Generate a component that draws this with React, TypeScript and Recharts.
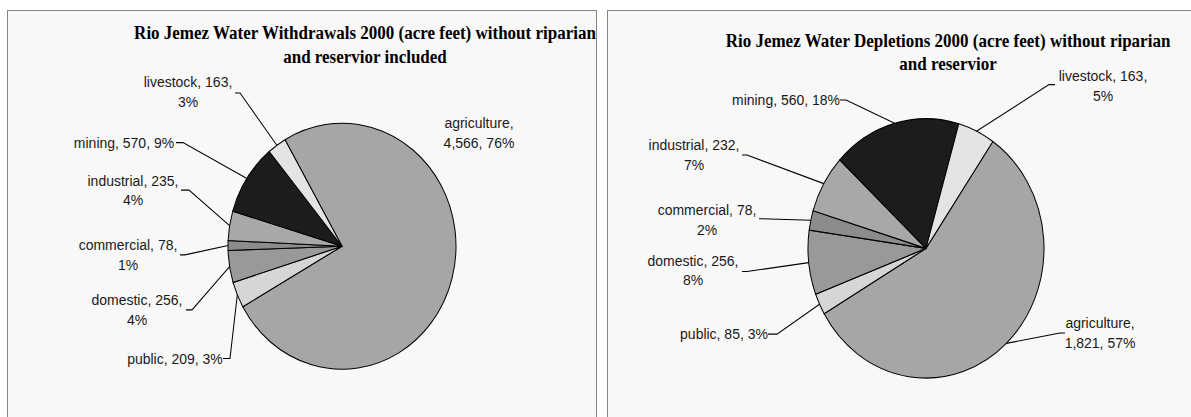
import { Cell, Pie, PieChart } from 'recharts';

const categories = ['agriculture', 'public', 'domestic', 'commercial', 'industrial', 'mining', 'livestock'];
const withdrawals = [4566, 209, 256, 78, 235, 570, 163];
const withdrawalPct = [76, 3, 4, 1, 4, 9, 3];
const depletions = [1821, 85, 256, 78, 232, 560, 163];
const depletionPct = [57, 3, 8, 2, 7, 18, 5];

const sliceColors = ['#a6a6a6', '#d6d6d6', '#999999', '#8c8c8c', '#a8a8a8', '#1c1c1c', '#e4e4e4'];

type Wrap = 'name' | 'value' | 'none';
interface LabelSpot {
  x: number;
  y: number;
  wrap: Wrap;
  lead?: [number, number, number];
}

// label placement, in unscaled panel coords
const withdrawalLabels: LabelSpot[] = [
  { x: 471, y: 104, wrap: 'name' },
  { x: 167, y: 322, wrap: 'none', lead: [215, 222, 322] },
  { x: 129, y: 268, wrap: 'value', lead: [178, 184, 277] },
  { x: 120, y: 217, wrap: 'value', lead: [172, 177, 226] },
  { x: 125, y: 157, wrap: 'value', lead: [173, 181, 166] },
  { x: 116, y: 122, wrap: 'none', lead: [168, 175, 122] },
  { x: 180, y: 66, wrap: 'value', lead: [227, 232, 76] }
];

const depletionLabels: LabelSpot[] = [
  { x: 492, y: 284, wrap: 'name', lead: [457, 452, 293] },
  { x: 116, y: 294, wrap: 'none', lead: [160, 169, 294] },
  { x: 85, y: 227, wrap: 'value', lead: [134, 139, 237] },
  { x: 99, y: 181, wrap: 'value', lead: [151, 154, 189] },
  { x: 86, y: 122, wrap: 'value', lead: [134, 139, 131] },
  { x: 178, y: 81, wrap: 'none', lead: [232, 238, 81] },
  { x: 495, y: 59, wrap: 'value', lead: [447, 441, 67] }
];

const RAD = Math.PI / 180;

const makeLabel = (values: number[], pct: number[], spots: LabelSpot[]) => (props: any) => {
  const { cx, cy, midAngle, outerRadius, index } = props;
  const spot = spots[index];
  const name = categories[index];
  const val = values[index].toLocaleString('en-US');
  let lines: string[];
  if (spot.wrap === 'name') lines = [`${name},`, `${val}, ${pct[index]}%`];
  else if (spot.wrap === 'value') lines = [`${name}, ${val},`, `${pct[index]}%`];
  else lines = [`${name}, ${val}, ${pct[index]}%`];
  const ex = cx + outerRadius * Math.cos(midAngle * RAD);
  const ey = cy - outerRadius * Math.sin(midAngle * RAD);
  return (
    <g key={`lbl-${index}`}>
      {spot.lead && (
        <polyline
          points={`${spot.lead[0]},${spot.lead[2]} ${spot.lead[1]},${spot.lead[2]} ${ex},${ey}`}
          fill="none"
          stroke="#000"
          strokeWidth={1}
        />
      )}
      {lines.map((t, i) => (
        <text
          key={i}
          x={spot.x}
          y={spot.y + i * 18}
          textAnchor="middle"
          dominantBaseline="central"
          fontFamily="'Liberation Sans', Arial, sans-serif"
          fontSize={14}
          fill="#1a1a1a"
        >
          {t}
        </text>
      ))}
    </g>
  );
};

interface PanelProps {
  left: number;
  width: number;
  stretch: number;
  values: number[];
  pct: number[];
  spots: LabelSpot[];
  cx: number;
  cy: number;
  radius: number;
  startAngle: number;
  title: [string, string];
  titleX: number;
  titleY: [number, number];
}

const Panel = (p: PanelProps) => {
  const data = categories.map((name, i) => ({ name, value: p.values[i] }));
  return (
    <div
      style={{
        position: 'absolute',
        left: p.left,
        top: 10,
        width: p.width,
        height: 430,
        boxSizing: 'border-box',
        border: '1px solid #858585',
        background: '#f8f8f8'
      }}
    >
      <div style={{ position: 'absolute', left: 0, top: 0, transform: `scaleY(${p.stretch})`, transformOrigin: 'top left' }}>
        <PieChart width={p.width - 2} height={390} margin={{ top: 0, right: 0, bottom: 0, left: 0 }}>
          <Pie
            data={data}
            dataKey="value"
            nameKey="name"
            cx={p.cx}
            cy={p.cy}
            outerRadius={p.radius}
            startAngle={p.startAngle}
            endAngle={p.startAngle - 360}
            stroke="#000"
            strokeWidth={1}
            labelLine={false}
            label={makeLabel(p.values, p.pct, p.spots)}
            isAnimationActive={false}
          >
            {data.map((d, i) => (
              <Cell key={d.name} fill={sliceColors[i]} />
            ))}
          </Pie>
        </PieChart>
        <svg width={p.width - 2} height={70} style={{ position: 'absolute', left: 0, top: 0 }}>
          {p.title.map((t, i) => (
            <text
              key={i}
              x={p.titleX}
              y={p.titleY[i]}
              textAnchor="middle"
              fontFamily="'Liberation Serif', 'Times New Roman', serif"
              fontWeight="bold"
              fontSize={17}
              fill="#000"
            >
              {t}
            </text>
          ))}
        </svg>
      </div>
    </div>
  );
};

const App = () => (
  <div style={{ position: 'absolute', left: 0, top: 0, width: 1191, height: 417, overflow: 'hidden', background: '#fff' }}>
    <Panel
      left={7}
      width={590}
      stretch={1.079}
      values={withdrawals}
      pct={withdrawalPct}
      spots={withdrawalLabels}
      cx={334}
      cy={218}
      radius={114}
      startAngle={120}
      title={['Rio Jemez Water Withdrawals 2000 (acre feet) without riparian', 'and reservior included']}
      titleX={357}
      titleY={[26, 48]}
    />
    <Panel
      left={607}
      width={600}
      stretch={1.099}
      values={depletions}
      pct={depletionPct}
      spots={depletionLabels}
      cx={318}
      cy={216}
      radius={118}
      startAngle={55.5}
      title={['Rio Jemez Water Depletions 2000 (acre feet) without riparian', 'and reservior']}
      titleX={340}
      titleY={[32.5, 54]}
    />
  </div>
);

export default App;
